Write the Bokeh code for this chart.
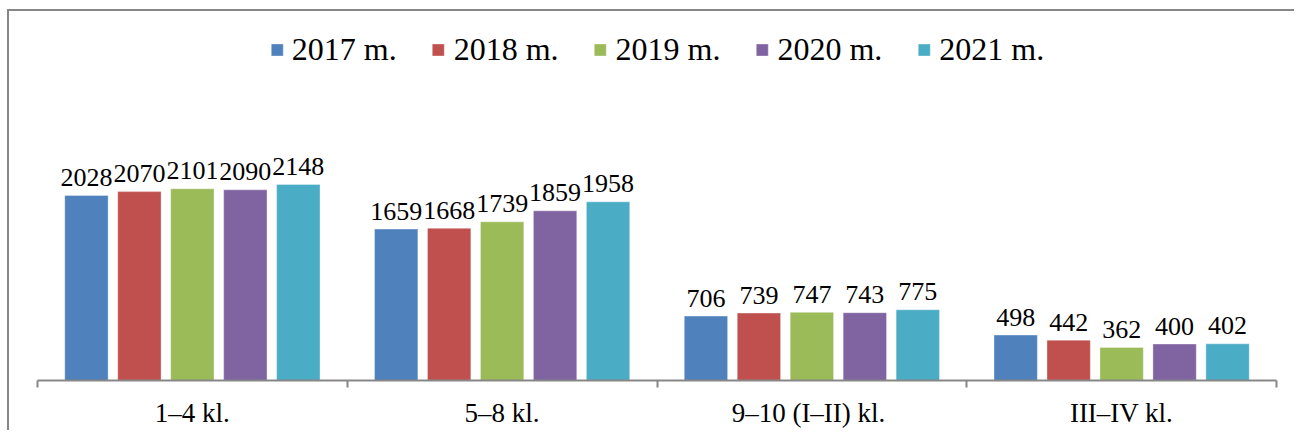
from bokeh.plotting import figure
from bokeh.models import (ColumnDataSource, Range1d, FixedTicker, Legend, LegendItem)
from bokeh.core.properties import value
from bokeh.embed import file_html
from bokeh.resources import INLINE

CATEGORIES = ["1–4 kl.", "5–8 kl.", "9–10  (I–II) kl.", "III–IV kl."]
YEARS = ["2017 m.", "2018 m.", "2019 m.", "2020 m.", "2021 m."]
V2017 = [2028, 1659, 706, 498]
V2018 = [2070, 1668, 739, 442]
V2019 = [2101, 1739, 747, 362]
V2020 = [2090, 1859, 743, 400]
V2021 = [2148, 1958, 775, 402]
SERIES = [V2017, V2018, V2019, V2020, V2021]
COLORS = ["#4F81BD", "#C0504D", "#9BBB59", "#8064A2", "#4BACC6"]

FONT = "Liberation Serif"
GRAY = "#878787"

p = figure(width=1287, height=421, output_backend="svg", toolbar_location=None,
           x_range=Range1d(0, len(CATEGORIES)), y_range=Range1d(0, 4044),
           min_border_left=28, min_border_right=20, min_border_top=0,
           min_border_bottom=52, outline_line_color=None,
           background_fill_color="white", border_fill_color="white")
p.styles = {"border-left": "2px solid " + GRAY, "border-top": "2px solid " + GRAY,
            "margin-left": "7px", "margin-top": "9px"}
p.grid.visible = False
p.yaxis.visible = False

pitch = 0.171
bw = 0.14
items = []
for i, (name, vals, col) in enumerate(zip(YEARS, SERIES, COLORS)):
    off = (i - 2) * pitch
    xs = [k + 0.5 + off for k in range(len(CATEGORIES))]
    src = ColumnDataSource(dict(x=xs, top=vals, lab=[str(v) for v in vals]))
    r = p.vbar(x="x", top="top", width=bw, source=src, fill_color=col,
               line_color="white", line_alpha=0.35, line_width=1)
    p.text(x="x", y="top", text="lab", source=src, text_align="center",
           text_baseline="alphabetic", y_offset=-18,
           text_font=value(FONT), text_font_size="26px", text_color="black")
    items.append(LegendItem(label=name, renderers=[r]))

ax = p.xaxis[0]
ax.ticker = FixedTicker(ticks=[k + 0.5 for k in range(len(CATEGORIES))],
                        minor_ticks=list(range(len(CATEGORIES) + 1)))
ax.major_label_overrides = {k + 0.5: c for k, c in enumerate(CATEGORIES)}
ax.major_tick_line_color = None
ax.major_tick_out = 0
ax.major_tick_in = 0
ax.minor_tick_line_color = GRAY
ax.minor_tick_line_width = 2
ax.minor_tick_out = 7
ax.minor_tick_in = 0
ax.axis_line_color = GRAY
ax.axis_line_width = 2
ax.major_label_text_font = FONT
ax.major_label_text_font_size = "27px"
ax.major_label_text_color = "black"
ax.major_label_standoff = 10

legend = Legend(items=items, orientation="horizontal", location="top_center",
                label_text_font=FONT, label_text_font_size="32px",
                label_text_color="black", glyph_width=15, glyph_height=15,
                label_standoff=8, spacing=34, padding=0, margin=20,
                border_line_color=None, background_fill_alpha=0)
p.add_layout(legend)

open("out.html", "w").write(file_html(p, INLINE))
